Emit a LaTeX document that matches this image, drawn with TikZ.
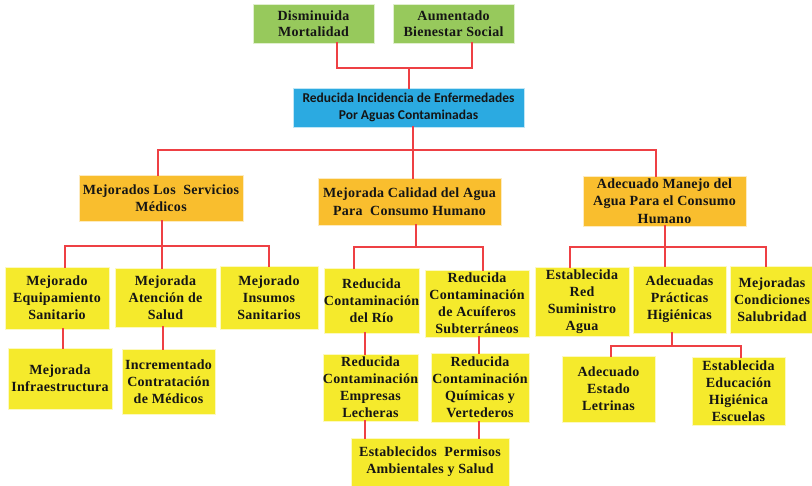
\documentclass[tikz,border=0pt]{standalone}
\usepackage{fontspec}
\setmainfont{Liberation Serif}
\newfontfamily\cardserif{Liberation Serif}[LetterSpace=2.0]
\newfontfamily\problemfont{Carlito}
\definecolor{goalgreen}{HTML}{97C95C}
\definecolor{coreblue}{HTML}{2BAAE1}
\definecolor{meangold}{HTML}{F9BE2E}
\definecolor{actyellow}{HTML}{F5EA2C}
\definecolor{linkred}{HTML}{EE4044}
\definecolor{inktext}{HTML}{151515}
\begin{document}
\begin{tikzpicture}[x=1pt,y=-1pt,
  card/.style={rectangle, inner sep=0pt, align=center, text=inktext,
    draw=white!70!#1, line width=0.6pt, fill=#1},
  goal/.style={card=goalgreen, font=\cardserif\bfseries\fontsize{14}{16}\selectfont},
  core/.style={card=coreblue, font=\problemfont\bfseries\fontsize{13.5}{17}\selectfont},
  mean/.style={card=meangold, font=\cardserif\bfseries\fontsize{14}{17.5}\selectfont},
  act/.style={card=actyellow, font=\cardserif\bfseries\fontsize{14}{17}\selectfont},
  link/.style={draw=linkred, line width=2.3pt, line cap=rect},
  sz/.style 2 args={minimum width=#1pt, minimum height=#2pt}
]
\useasboundingbox (0,0) rectangle (812,486);
\clip (0,0) rectangle (812,486);

% ends
\node[goal, sz={121}{39}] (dm) at (313.5,23.5) {Disminuida\\Mortalidad};
\node[goal, sz={121}{39}] (ab) at (453.5,23.5) {Aumentado\\Bienestar Social};

% central objective
\node[core, sz={231}{39}] (core) at (408.5,107.5) {Reducida Incidencia de Enfermedades\\Por Aguas Contaminadas};

% main means
\node[mean, sz={164}{46}] (o1) at (161,198) {Mejorados Los\ \ Servicios\\Médicos};
\node[mean, sz={183}{47}] (o2) at (409.5,201.5) {Mejorada Calidad del Agua\\Para\ \ Consumo Humano};
\node[mean, sz={163}{50}] (o3) at (664.5,201) {Adecuado Manejo del\\Agua Para el Consumo\\Humano};

% medical services branch
\node[act, sz={104}{62}] (y11) at (57,298) {Mejorado\\Equipamiento\\Sanitario};
\node[act, sz={101}{59}] (y12) at (165.5,297.5) {Mejorada\\Atención de\\Salud};
\node[act, sz={98}{63}] (y13) at (269,297.5) {Mejorado\\Insumos\\Sanitarios};
\node[act, sz={104}{61}] (y14) at (60,378.5) {Mejorada\\Infraestructura};
\node[act, sz={93}{65}] (y15) at (168.5,381.5) {Incrementado\\Contratación\\de Médicos};

% water quality branch
\node[act, sz={93}{65}] (y21) at (371.5,300.5) {Reducida\\Contaminación\\del Río};
\node[act, sz={104}{67}] (y22) at (477,303.5) {Reducida\\Contaminación\\de Acuíferos\\Subterráneos};
\node[act, sz={93}{67}] (y23) at (370.5,387.5) {Reducida\\Contaminación\\Empresas\\Lecheras};
\node[act, sz={98}{69}] (y24) at (480,387.5) {Reducida\\Contaminación\\Químicas y\\Vertederos};
\node[act, sz={158}{48}] (y25) at (430,462) {Establecidos\ \ Permisos\\Ambientales y Salud};

% water management branch
\node[act, sz={94}{69}] (y31) at (582,301.5) {Establecida\\Red\\Suministro\\Agua};
\node[act, sz={93}{67}] (y32) at (679.5,299.5) {Adecuadas\\Prácticas\\Higiénicas};
\node[act, sz={84}{67}] (y33) at (772,299.5) {Mejoradas\\Condiciones\\Salubridad};
\node[act, sz={93}{66}] (y34) at (608.5,389) {Adecuado\\Estado\\Letrinas};
\node[act, sz={93}{68}] (y35) at (738.5,391) {Establecida\\Educación\\Higiénica\\Escuelas};

% junction points and connector columns
\coordinate (j0) at (409,68);
\coordinate (j1) at (413,150);
\coordinate (j2) at (162,246);
\coordinate (j3) at (416,247);
\coordinate (j4) at (665,247);
\coordinate (j5) at (672,346);
\coordinate (xa) at (337,0);
\coordinate (xb) at (472,0);
\coordinate (xc) at (158,0);
\coordinate (xd) at (656,0);
\coordinate (xe) at (65,0);
\coordinate (xf) at (269,0);
\coordinate (xg) at (63,0);
\coordinate (xh) at (163,0);
\coordinate (xi) at (354,0);
\coordinate (xj) at (483,0);
\coordinate (xk) at (365,0);
\coordinate (xl) at (479,0);
\coordinate (xm) at (570,0);
\coordinate (xn) at (766,0);
\coordinate (xo) at (611,0);
\coordinate (xp) at (741,0);

% ends to central objective
\draw[link] (dm.south -| xa) |- (j0) -| (ab.south -| xb);
\draw[link] (j0) -- (j0 |- core.north);

% central objective to means
\draw[link] (core.south -| j1) -- (j1);
\draw[link] (o1.north -| xc) |- (j1) -| (o3.north -| xd);
\draw[link] (j1) -- (j1 |- o2.north);

% medical services
\draw[link] (o1.south -| j2) -- (j2);
\draw[link] (y11.north -| xe) |- (j2) -| (y13.north -| xf);
\draw[link] (j2) -- (j2 |- y12.north);
\draw[link] (y11.south -| xg) -- (y14.north -| xg);
\draw[link] (y12.south -| xh) -- (y15.north -| xh);

% water quality
\draw[link] (o2.south -| j3) -- (j3);
\draw[link] (y21.north -| xi) |- (j3) -| (y22.north -| xj);
\draw[link] (y21.south -| xk) -- (y23.north -| xk);
\draw[link] (y22.south -| xl) -- (y24.north -| xl);
\draw[link] (y23.south -| xk) -- (y25.north -| xk);
\draw[link] (y24.south -| xl) -- (y25.north -| xl);

% water management
\draw[link] (o3.south -| j4) -- (j4);
\draw[link] (y31.north -| xm) |- (j4) -| (y33.north -| xn);
\draw[link] (j4) -- (j4 |- y32.north);
\draw[link] (y32.south -| j5) -- (j5);
\draw[link] (y34.north -| xo) |- (j5) -| (y35.north -| xp);
\end{tikzpicture}
\end{document}
